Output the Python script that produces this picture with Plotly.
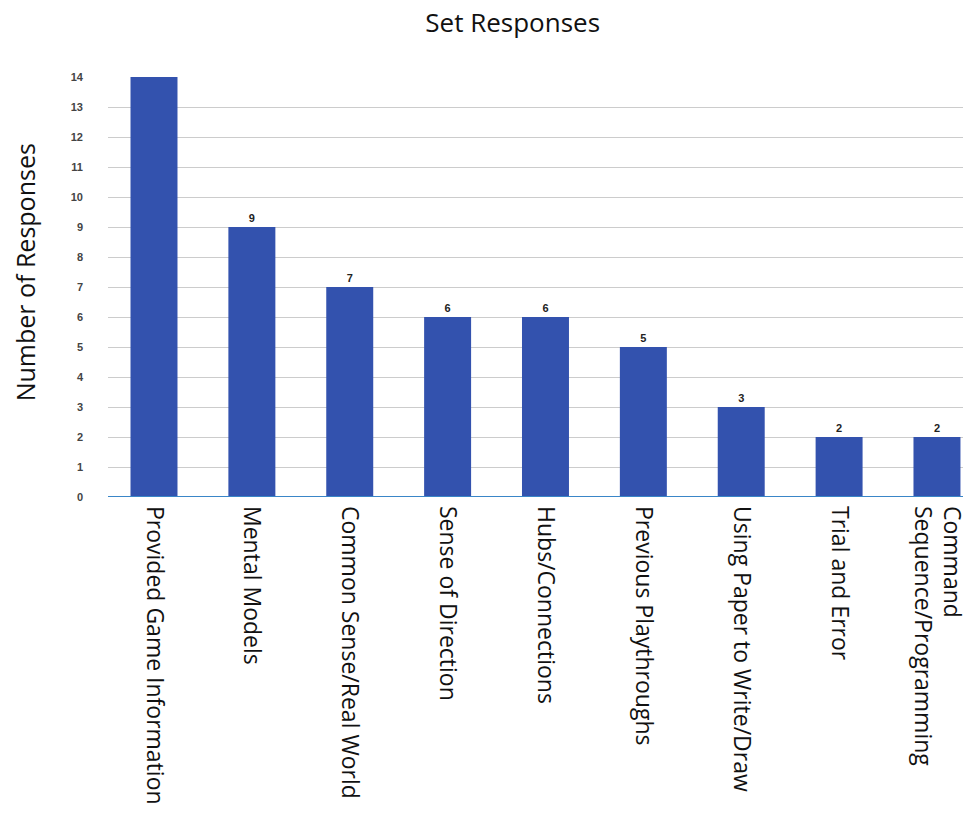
import plotly.graph_objects as go

categories = [
    "Provided Game Information",
    "Mental Models",
    "Common Sense/Real World",
    "Sense of Direction",
    "Hubs/Connections",
    "Previous Playthroughs",
    "Using Paper to Write/Draw",
    "Trial and Error",
    "Command<br>Sequence/Programming",
]
responses = [14, 9, 7, 6, 6, 5, 3, 2, 2]
# the tallest bar carries no value label
bar_labels = ["" if v == max(responses) else str(v) for v in responses]
y_ticks = list(range(0, 15))

fig = go.Figure(
    go.Bar(
        x=list(range(len(categories))),
        y=responses,
        width=0.48,
        marker=dict(color="#3352ae", line=dict(width=0)),
        text=bar_labels,
        textposition="outside",
        textfont=dict(family="Arial, Liberation Sans", size=11, color="#222222", weight="bold"),
        cliponaxis=False,
    )
)

fig.update_layout(
    width=971,
    height=815,
    margin=dict(l=108, r=8, t=77, b=318, autoexpand=False),
    paper_bgcolor="white",
    plot_bgcolor="white",
    showlegend=False,
    title=dict(
        text="Set Responses",
        x=0.528,
        xanchor="center",
        y=0.972,
        yanchor="middle",
        font=dict(family="Open Sans", size=26, color="#111111"),
    ),
    xaxis=dict(
        tickmode="array",
        tickvals=list(range(len(categories))),
        ticktext=categories,
        tickangle=90,
        range=[-0.47, 8.266],
        automargin=False,
        showgrid=False,
        zeroline=False,
        showline=False,
        ticks="",
        ticklen=0,
        ticklabelstandoff=8,
        tickfont=dict(family="Open Sans", size=23, color="#111111"),
    ),
    yaxis=dict(
        range=[0, 14],
        tickvals=y_ticks,
        automargin=False,
        showgrid=True,
        gridcolor="#cccccc",
        gridwidth=1,
        zeroline=False,
        showline=False,
        tickfont=dict(family="Arial, Liberation Sans", size=11, color="#444444", weight="bold"),
        ticklabelstandoff=24,
    ),
)

# vertical axis title, set a little above the plot's middle
fig.add_annotation(
    text="Number of Responses",
    xref="paper",
    yref="paper",
    x=-0.097,
    y=0.535,
    xanchor="center",
    yanchor="middle",
    textangle=-90,
    showarrow=False,
    font=dict(family="Open Sans", size=25, color="#111111"),
)

# blue baseline along the zero value
fig.add_shape(
    type="line",
    xref="paper",
    yref="y",
    x0=0,
    x1=1,
    y0=0,
    y1=0,
    line=dict(color="#3a86c8", width=2),
)

fig.write_html("out.html")
